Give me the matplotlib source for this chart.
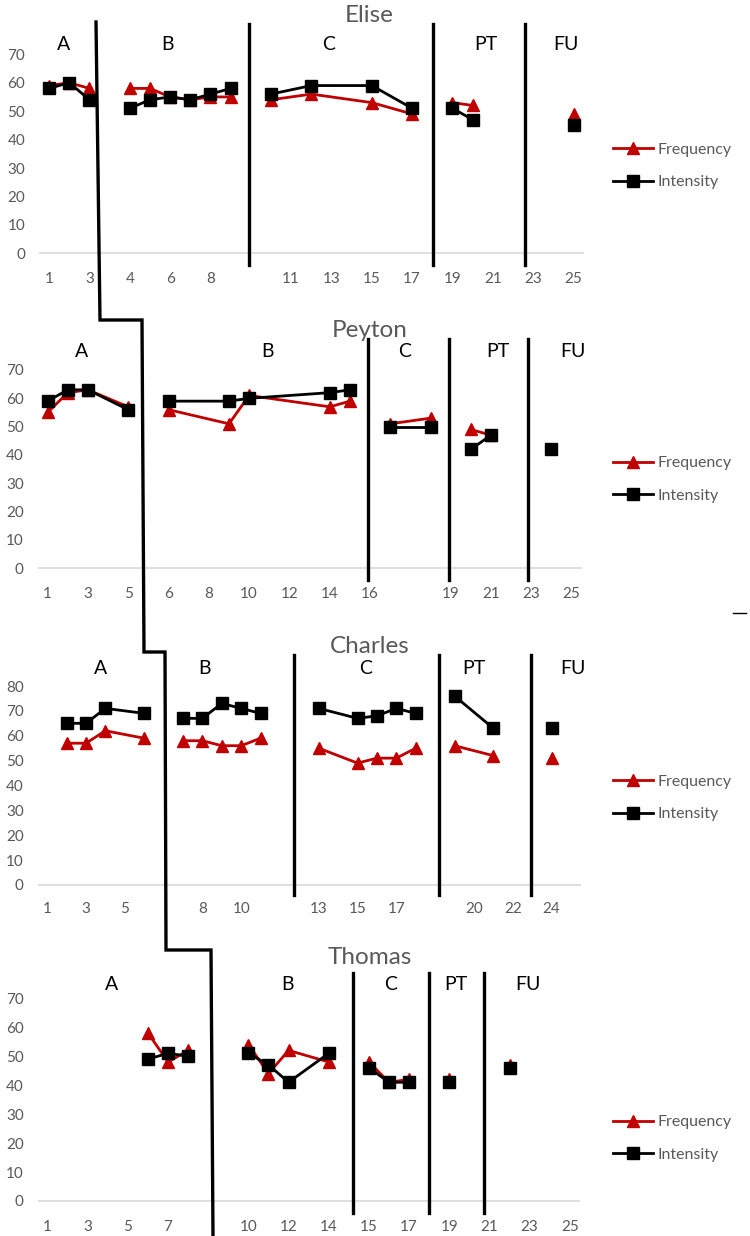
import matplotlib
matplotlib.use("Agg")
import matplotlib.pyplot as plt
import numpy as np

plt.rcParams["font.family"] = ["Lato", "DejaVu Sans"]

W, H = 750, 1236
RED = "#C00000"
GRAY = "#595959"
AXIS_GRAY = "#D9D9D9"

# --- data (x = category slot on the Excel axis, one list per series) ---
ELISE_X = [1, 2, 3, 5, 6, 7, 8, 9, 10, 12, 14, 17, 19, 21, 22, 27]
ELISE_PHASE = ["A", "A", "A", "B", "B", "B", "B", "B", "B", "C", "C", "C", "C", "PT", "PT", "FU"]
ELISE_FREQ = [59, 60, 58, 58, 58, 55, 54, 55, 55, 54, 56, 53, 49, 53, 52, 49]
ELISE_INT = [58, 60, 54, 51, 54, 55, 54, 56, 58, 56, 59, 59, 51, 51, 47, 45]
ELISE_TICKS = ["1", "3", "4", "6", "8", "", "11", "13", "15", "17", "19", "21", "23", "25"]

PEYTON_X = [1, 2, 3, 5, 7, 10, 11, 15, 16, 18, 20, 22, 23, 26]
PEYTON_PHASE = ["A", "A", "A", "A", "B", "B", "B", "B", "B", "C", "C", "PT", "PT", "FU"]
PEYTON_FREQ = [55, 62, 63, 57, 56, 51, 61, 57, 59, 51, 53, 49, 47, np.nan]
PEYTON_INT = [59, 63, 63, 56, 59, 59, 60, 62, 63, 50, 50, 42, 47, 42]
PEYTON_TICKS = ["1", "3", "5", "6", "8", "10", "12", "14", "16", "", "19", "21", "23", "25"]

CHARLES_X = [2, 3, 4, 6, 8, 9, 10, 11, 12, 15, 17, 18, 19, 20, 22, 24, 27]
CHARLES_PHASE = ["A", "A", "A", "A", "B", "B", "B", "B", "B", "C", "C", "C", "C", "C", "PT", "PT", "FU"]
CHARLES_FREQ = [57, 57, 62, 59, 58, 58, 56, 56, 59, 55, 49, 51, 51, 55, 56, 52, 51]
CHARLES_INT = [65, 65, 71, 69, 67, 67, 73, 71, 69, 71, 67, 68, 71, 69, 76, 63, 63]
CHARLES_TICKS = ["1", "3", "5", "", "8", "10", "", "13", "15", "17", "", "20", "22", "24"]

THOMAS_X = [6, 7, 8, 11, 12, 13, 15, 17, 18, 19, 21, 24]
THOMAS_PHASE = ["A", "A", "A", "B", "B", "B", "B", "C", "C", "C", "PT", "FU"]
THOMAS_FREQ = [58, 48, 52, 54, 44, 52, 48, 48, 41, 42, 42, 47]
THOMAS_INT = [49, 51, 50, 51, 47, 41, 51, 46, 41, 41, 41, 46]
THOMAS_TICKS = ["1", "3", "5", "7", "", "10", "12", "14", "15", "17", "19", "21", "23", "25"]

PHASE_NAMES = ["A", "B", "C", "PT", "FU"]

# --- layout (pixel geometry) ---
PANELS = [
    dict(name="Elise", x=ELISE_X, phase=ELISE_PHASE, freq=ELISE_FREQ, inten=ELISE_INT,
         ticks=ELISE_TICKS, ncat=27, ytop=70, xl=39, xr=583.6, y0=253.3, ppu=2.843, vmax=82,
         bounds=[10.92, 20.05, 24.59], line_top=80.6,
         label_x=[1.70, 6.87, 14.86, 22.65, 26.62], label_y=73.3, title_y=15, leg_y=166),
    dict(name="Peyton", x=PEYTON_X, phase=PEYTON_PHASE, freq=PEYTON_FREQ, inten=PEYTON_INT,
         ticks=PEYTON_TICKS, ncat=27, ytop=70, xl=37.5, xr=581.7, y0=568.3, ppu=2.833, vmax=82,
         bounds=[16.91, 20.9, 24.85], line_top=80.8,
         label_x=[2.67, 11.93, 18.73, 23.33, 27.07], label_y=76.5, title_y=330.7, leg_y=479.5),
    dict(name="Charles", x=CHARLES_X, phase=CHARLES_PHASE, freq=CHARLES_FREQ, inten=CHARLES_INT,
         ticks=CHARLES_TICKS, ncat=28, ytop=80, xl=37.5, xr=580.6, y0=885, ppu=2.4875, vmax=94,
         bounds=[13.73, 21.22, 25.92], line_top=92.5,
         label_x=[3.74, 9.1, 17.43, 23.0, 28.13], label_y=87.1, title_y=646.7, leg_y=798),
    dict(name="Thomas", x=THOMAS_X, phase=THOMAS_PHASE, freq=THOMAS_FREQ, inten=THOMAS_INT,
         ticks=THOMAS_TICKS, ncat=27, ytop=70, xl=37.5, xr=579.8, y0=1201, ppu=2.896, vmax=80,
         bounds=[16.22, 20.0, 22.71], line_top=78.6,
         label_x=[4.18, 12.95, 18.1, 21.33, 24.93], label_y=74.6, title_y=958, leg_y=1138.5),
]

# staircase line that runs through all four panels (figure pixels)
STAIR_X = [96, 100, 142, 144, 165, 166, 211, 213]
STAIR_Y = [22, 320, 320, 652, 652, 950, 950, 1236]

fig = plt.figure(figsize=(W / 100, H / 100), dpi=100)

for p in PANELS:
    vmin = -5
    top_px = p["y0"] - p["vmax"] * p["ppu"]
    bot_px = p["y0"] - vmin * p["ppu"]
    ax = fig.add_axes([p["xl"] / W, 1 - bot_px / H, (p["xr"] - p["xl"]) / W, (bot_px - top_px) / H])
    ax.set_xlim(0.5, p["ncat"] + 0.5)
    ax.set_ylim(vmin, p["vmax"])
    for s in ax.spines.values():
        s.set_visible(False)
    ax.patch.set_alpha(0)
    ax.axhline(0, color=AXIS_GRAY, lw=1.2, zorder=1)

    ax.set_yticks(np.arange(0, p["ytop"] + 1, 10))
    ax.set_xticks(np.arange(1, p["ncat"] + 1, 2))
    ax.set_xticklabels(p["ticks"])
    ax.tick_params(axis="both", length=0, labelsize=11, labelcolor=GRAY)
    ax.tick_params(axis="y", pad=10)
    ax.tick_params(axis="x", pad=3)

    x = np.array(p["x"], dtype=float)
    ph = np.array(p["phase"])
    fr = np.array(p["freq"], dtype=float)
    it = np.array(p["inten"], dtype=float)
    handles = None
    for name in PHASE_NAMES:
        m = ph == name
        if not m.any():
            continue
        (lf,) = ax.plot(x[m], fr[m], color=RED, marker="^", ms=9, lw=2, zorder=3, clip_on=False)
        (li,) = ax.plot(x[m], it[m], color="black", marker="s", ms=8, lw=2, zorder=4, clip_on=False)
        if handles is None:
            handles = [lf, li]

    for b in p["bounds"]:
        ax.plot([b, b], [-4, p["line_top"]], color="black", lw=2.4, clip_on=False, zorder=5)

    for name, lx in zip(PHASE_NAMES, p["label_x"]):
        ax.text(lx, p["label_y"], name, ha="center", va="center", fontsize=14, color="black",
                clip_on=False)

    fig.text(369.5 / W, 1 - p["title_y"] / H, p["name"], ha="center", va="center",
             fontsize=17.5, color=GRAY)

    ax.legend(handles=handles, labels=["Frequency", "Intensity"], loc="center left",
              bbox_to_anchor=(613 / W, 1 - p["leg_y"] / H), bbox_transform=fig.transFigure,
              frameon=False, borderpad=0, borderaxespad=0, handlelength=2.5,
              handletextpad=0.3, labelspacing=1.15, fontsize=11.5, labelcolor=GRAY,
              numpoints=1)

# overlay in pixel coordinates for the staircase and the stray dash
over = fig.add_axes([0, 0, 1, 1])
over.set_xlim(0, W)
over.set_ylim(H, 0)
over.axis("off")
over.patch.set_alpha(0)
over.plot(STAIR_X, STAIR_Y, color="black", lw=2.4, solid_joinstyle="miter")
over.plot([733, 746], [613, 613], color="black", lw=1)

fig.savefig("out.png", dpi=100)
